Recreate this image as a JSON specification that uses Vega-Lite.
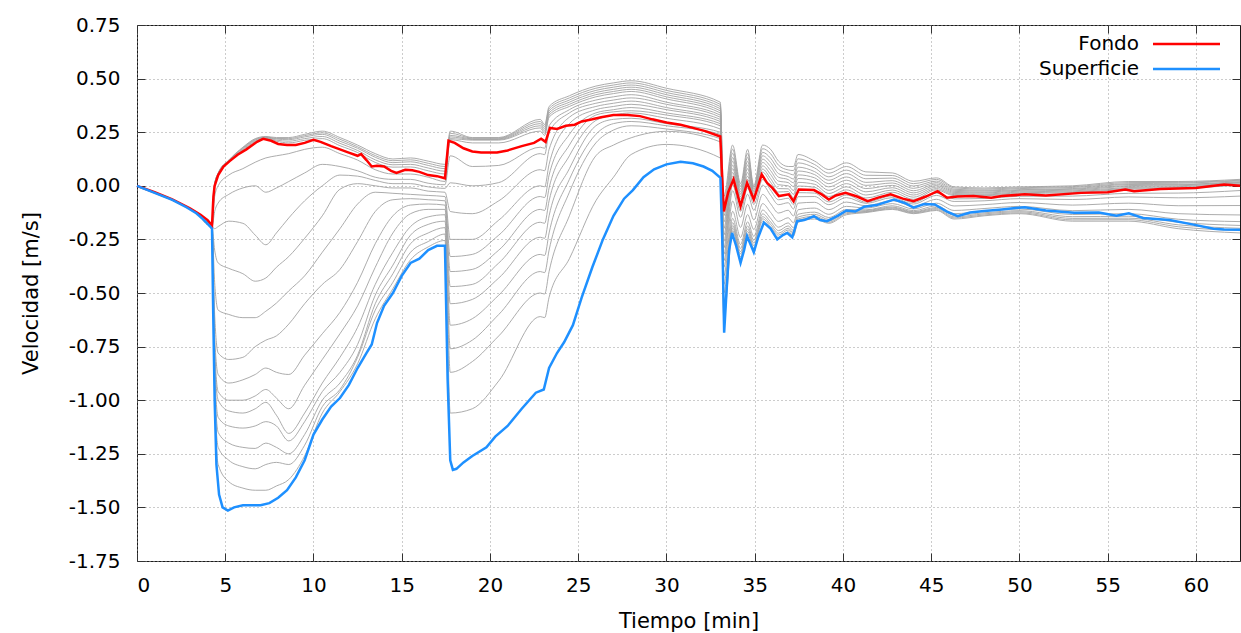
{
"$schema":"https://vega.github.io/schema/vega-lite/v6.json",
"width":1103,"height":536,
"autosize":{"type":"none"},
"padding":{"left":137,"top":25,"right":1,"bottom":72},
"background":"white",
"config":{"font":"DejaVu Sans","view":{"stroke":"#1a1a1a","strokeWidth":1},
"axis":{"labelFont":"DejaVu Sans","titleFont":"DejaVu Sans","labelFontSize":20,"titleFontSize":21,"titleFontWeight":"normal","labelColor":"#000","titleColor":"#000","tickColor":"#333","domain":false,"gridColor":"#999999","gridDash":[1,3],"gridWidth":1,"tickSize":-8}},
"data":{"values":[
{"t":0,"s":"Fondo","v":0},{"t":1,"s":"Fondo","v":-0.03},{"t":2,"s":"Fondo","v":-0.063},{"t":3,"s":"Fondo","v":-0.105},{"t":3.6,"s":"Fondo","v":-0.135},{"t":4.0,"s":"Fondo","v":-0.16},{"t":4.25,"s":"Fondo","v":-0.185},{"t":4.33,"s":"Fondo","v":-0.05},{"t":4.4,"s":"Fondo","v":0.0},{"t":4.6,"s":"Fondo","v":0.05},{"t":4.9,"s":"Fondo","v":0.09},{"t":5.25,"s":"Fondo","v":0.115},{"t":5.7,"s":"Fondo","v":0.145},{"t":6.2,"s":"Fondo","v":0.17},{"t":6.8,"s":"Fondo","v":0.205},{"t":7.15,"s":"Fondo","v":0.219},{"t":7.6,"s":"Fondo","v":0.21},{"t":8.0,"s":"Fondo","v":0.195},{"t":8.5,"s":"Fondo","v":0.19},{"t":9.0,"s":"Fondo","v":0.19},{"t":9.5,"s":"Fondo","v":0.2},{"t":10.0,"s":"Fondo","v":0.215},{"t":10.4,"s":"Fondo","v":0.205},{"t":11.0,"s":"Fondo","v":0.185},{"t":11.5,"s":"Fondo","v":0.17},{"t":12.0,"s":"Fondo","v":0.155},{"t":12.5,"s":"Fondo","v":0.14},{"t":12.7,"s":"Fondo","v":0.148},{"t":13.0,"s":"Fondo","v":0.12},{"t":13.3,"s":"Fondo","v":0.09},{"t":13.6,"s":"Fondo","v":0.093},{"t":14.0,"s":"Fondo","v":0.09},{"t":14.4,"s":"Fondo","v":0.07},{"t":14.7,"s":"Fondo","v":0.06},{"t":15.2,"s":"Fondo","v":0.075},{"t":15.6,"s":"Fondo","v":0.072},{"t":16.0,"s":"Fondo","v":0.065},{"t":16.5,"s":"Fondo","v":0.05},{"t":17.0,"s":"Fondo","v":0.045},{"t":17.45,"s":"Fondo","v":0.035},{"t":17.65,"s":"Fondo","v":0.21},{"t":18.0,"s":"Fondo","v":0.2},{"t":18.5,"s":"Fondo","v":0.175},{"t":19.0,"s":"Fondo","v":0.16},{"t":19.5,"s":"Fondo","v":0.155},{"t":20.4,"s":"Fondo","v":0.155},{"t":21.0,"s":"Fondo","v":0.165},{"t":21.8,"s":"Fondo","v":0.185},{"t":22.5,"s":"Fondo","v":0.2},{"t":22.9,"s":"Fondo","v":0.22},{"t":23.15,"s":"Fondo","v":0.205},{"t":23.4,"s":"Fondo","v":0.27},{"t":23.8,"s":"Fondo","v":0.265},{"t":24.3,"s":"Fondo","v":0.28},{"t":24.8,"s":"Fondo","v":0.285},{"t":25.2,"s":"Fondo","v":0.3},{"t":25.8,"s":"Fondo","v":0.31},{"t":26.3,"s":"Fondo","v":0.32},{"t":27.0,"s":"Fondo","v":0.33},{"t":27.8,"s":"Fondo","v":0.33},{"t":28.5,"s":"Fondo","v":0.325},{"t":29.2,"s":"Fondo","v":0.31},{"t":30.0,"s":"Fondo","v":0.295},{"t":30.8,"s":"Fondo","v":0.285},{"t":31.5,"s":"Fondo","v":0.27},{"t":32.2,"s":"Fondo","v":0.255},{"t":33.05,"s":"Fondo","v":0.23},{"t":33.25,"s":"Fondo","v":-0.12},{"t":33.5,"s":"Fondo","v":-0.03},{"t":33.8,"s":"Fondo","v":0.03},{"t":34.2,"s":"Fondo","v":-0.095},{"t":34.57,"s":"Fondo","v":0.014},{"t":34.95,"s":"Fondo","v":-0.064},{"t":35.4,"s":"Fondo","v":0.053},{"t":35.7,"s":"Fondo","v":0.014},{"t":36.0,"s":"Fondo","v":-0.01},{"t":36.37,"s":"Fondo","v":-0.048},{"t":36.93,"s":"Fondo","v":-0.04},{"t":37.2,"s":"Fondo","v":-0.072},{"t":37.5,"s":"Fondo","v":-0.017},{"t":38.36,"s":"Fondo","v":-0.02},{"t":38.8,"s":"Fondo","v":-0.04},{"t":39.2,"s":"Fondo","v":-0.064},{"t":39.6,"s":"Fondo","v":-0.045},{"t":40.15,"s":"Fondo","v":-0.033},{"t":40.8,"s":"Fondo","v":-0.05},{"t":41.4,"s":"Fondo","v":-0.072},{"t":42.0,"s":"Fondo","v":-0.055},{"t":42.7,"s":"Fondo","v":-0.04},{"t":43.4,"s":"Fondo","v":-0.06},{"t":44.0,"s":"Fondo","v":-0.072},{"t":44.7,"s":"Fondo","v":-0.05},{"t":45.36,"s":"Fondo","v":-0.025},{"t":45.9,"s":"Fondo","v":-0.056},{"t":46.5,"s":"Fondo","v":-0.05},{"t":47.4,"s":"Fondo","v":-0.048},{"t":48.4,"s":"Fondo","v":-0.056},{"t":49.0,"s":"Fondo","v":-0.048},{"t":50.3,"s":"Fondo","v":-0.04},{"t":51.5,"s":"Fondo","v":-0.045},{"t":53.5,"s":"Fondo","v":-0.033},{"t":55.0,"s":"Fondo","v":-0.03},{"t":56.0,"s":"Fondo","v":-0.017},{"t":56.5,"s":"Fondo","v":-0.025},{"t":58.0,"s":"Fondo","v":-0.015},{"t":60.0,"s":"Fondo","v":-0.01},{"t":61.6,"s":"Fondo","v":0.006},{"t":62.5,"s":"Fondo","v":0.0},
{"t":0,"s":"Superficie","v":0},{"t":1,"s":"Superficie","v":-0.033},{"t":2,"s":"Superficie","v":-0.066},{"t":2.8,"s":"Superficie","v":-0.1},{"t":3.36,"s":"Superficie","v":-0.128},{"t":3.8,"s":"Superficie","v":-0.16},{"t":4.15,"s":"Superficie","v":-0.19},{"t":4.25,"s":"Superficie","v":-0.2},{"t":4.32,"s":"Superficie","v":-0.6},{"t":4.4,"s":"Superficie","v":-1.0},{"t":4.5,"s":"Superficie","v":-1.3},{"t":4.65,"s":"Superficie","v":-1.44},{"t":4.85,"s":"Superficie","v":-1.5},{"t":5.15,"s":"Superficie","v":-1.515},{"t":5.5,"s":"Superficie","v":-1.5},{"t":6.0,"s":"Superficie","v":-1.49},{"t":7.0,"s":"Superficie","v":-1.49},{"t":7.5,"s":"Superficie","v":-1.48},{"t":8.0,"s":"Superficie","v":-1.455},{"t":8.5,"s":"Superficie","v":-1.42},{"t":9.0,"s":"Superficie","v":-1.36},{"t":9.5,"s":"Superficie","v":-1.28},{"t":10.0,"s":"Superficie","v":-1.16},{"t":10.5,"s":"Superficie","v":-1.09},{"t":11.0,"s":"Superficie","v":-1.03},{"t":11.5,"s":"Superficie","v":-0.99},{"t":12.0,"s":"Superficie","v":-0.93},{"t":12.5,"s":"Superficie","v":-0.85},{"t":13.0,"s":"Superficie","v":-0.78},{"t":13.3,"s":"Superficie","v":-0.74},{"t":13.6,"s":"Superficie","v":-0.64},{"t":14.0,"s":"Superficie","v":-0.56},{"t":14.5,"s":"Superficie","v":-0.5},{"t":15.0,"s":"Superficie","v":-0.42},{"t":15.5,"s":"Superficie","v":-0.36},{"t":16.0,"s":"Superficie","v":-0.34},{"t":16.5,"s":"Superficie","v":-0.3},{"t":17.0,"s":"Superficie","v":-0.28},{"t":17.45,"s":"Superficie","v":-0.28},{"t":17.6,"s":"Superficie","v":-0.9},{"t":17.75,"s":"Superficie","v":-1.28},{"t":17.9,"s":"Superficie","v":-1.325},{"t":18.1,"s":"Superficie","v":-1.32},{"t":18.5,"s":"Superficie","v":-1.29},{"t":19.0,"s":"Superficie","v":-1.26},{"t":19.8,"s":"Superficie","v":-1.22},{"t":20.3,"s":"Superficie","v":-1.17},{"t":21.0,"s":"Superficie","v":-1.12},{"t":21.8,"s":"Superficie","v":-1.04},{"t":22.6,"s":"Superficie","v":-0.965},{"t":23.05,"s":"Superficie","v":-0.95},{"t":23.35,"s":"Superficie","v":-0.85},{"t":23.8,"s":"Superficie","v":-0.78},{"t":24.2,"s":"Superficie","v":-0.73},{"t":24.7,"s":"Superficie","v":-0.65},{"t":25.2,"s":"Superficie","v":-0.52},{"t":25.8,"s":"Superficie","v":-0.38},{"t":26.4,"s":"Superficie","v":-0.25},{"t":27.0,"s":"Superficie","v":-0.14},{"t":27.6,"s":"Superficie","v":-0.06},{"t":28.1,"s":"Superficie","v":-0.02},{"t":28.7,"s":"Superficie","v":0.04},{"t":29.3,"s":"Superficie","v":0.077},{"t":30.0,"s":"Superficie","v":0.1},{"t":30.8,"s":"Superficie","v":0.112},{"t":31.5,"s":"Superficie","v":0.105},{"t":32.1,"s":"Superficie","v":0.09},{"t":32.6,"s":"Superficie","v":0.07},{"t":33.06,"s":"Superficie","v":0.037},{"t":33.18,"s":"Superficie","v":-0.3},{"t":33.27,"s":"Superficie","v":-0.685},{"t":33.4,"s":"Superficie","v":-0.5},{"t":33.55,"s":"Superficie","v":-0.3},{"t":33.72,"s":"Superficie","v":-0.22},{"t":33.95,"s":"Superficie","v":-0.28},{"t":34.2,"s":"Superficie","v":-0.36},{"t":34.4,"s":"Superficie","v":-0.3},{"t":34.57,"s":"Superficie","v":-0.235},{"t":34.75,"s":"Superficie","v":-0.27},{"t":34.95,"s":"Superficie","v":-0.31},{"t":35.2,"s":"Superficie","v":-0.24},{"t":35.52,"s":"Superficie","v":-0.172},{"t":35.9,"s":"Superficie","v":-0.2},{"t":36.28,"s":"Superficie","v":-0.25},{"t":36.6,"s":"Superficie","v":-0.23},{"t":36.85,"s":"Superficie","v":-0.22},{"t":37.13,"s":"Superficie","v":-0.24},{"t":37.41,"s":"Superficie","v":-0.165},{"t":37.8,"s":"Superficie","v":-0.16},{"t":38.36,"s":"Superficie","v":-0.142},{"t":38.7,"s":"Superficie","v":-0.16},{"t":39.1,"s":"Superficie","v":-0.165},{"t":39.7,"s":"Superficie","v":-0.14},{"t":40.2,"s":"Superficie","v":-0.115},{"t":40.7,"s":"Superficie","v":-0.12},{"t":41.2,"s":"Superficie","v":-0.098},{"t":41.9,"s":"Superficie","v":-0.09},{"t":42.9,"s":"Superficie","v":-0.064},{"t":43.5,"s":"Superficie","v":-0.08},{"t":44.0,"s":"Superficie","v":-0.102},{"t":44.6,"s":"Superficie","v":-0.085},{"t":45.2,"s":"Superficie","v":-0.087},{"t":45.9,"s":"Superficie","v":-0.12},{"t":46.5,"s":"Superficie","v":-0.142},{"t":47.2,"s":"Superficie","v":-0.125},{"t":48.0,"s":"Superficie","v":-0.118},{"t":49.0,"s":"Superficie","v":-0.11},{"t":50.3,"s":"Superficie","v":-0.1},{"t":51.5,"s":"Superficie","v":-0.115},{"t":53.1,"s":"Superficie","v":-0.126},{"t":54.5,"s":"Superficie","v":-0.125},{"t":55.5,"s":"Superficie","v":-0.14},{"t":56.2,"s":"Superficie","v":-0.128},{"t":57.0,"s":"Superficie","v":-0.15},{"t":58.5,"s":"Superficie","v":-0.16},{"t":59.8,"s":"Superficie","v":-0.18},{"t":61.0,"s":"Superficie","v":-0.2},{"t":61.6,"s":"Superficie","v":-0.204},{"t":62.5,"s":"Superficie","v":-0.205},
{"t":0,"s":"U5","v":0},{"t":2,"s":"U5","v":-0.066},{"t":3.36,"s":"U5","v":-0.128},{"t":4.25,"s":"U5","v":-0.19},{"t":4.4,"s":"U5","v":0.01},{"t":4.6,"s":"U5","v":0.06},{"t":5.2,"s":"U5","v":0.12},{"t":6,"s":"U5","v":0.18},{"t":6.7,"s":"U5","v":0.22},{"t":7.3,"s":"U5","v":0.23},{"t":7.9,"s":"U5","v":0.225},{"t":8.6,"s":"U5","v":0.225},{"t":9.5,"s":"U5","v":0.24},{"t":10.5,"s":"U5","v":0.255},{"t":11.5,"s":"U5","v":0.225},{"t":12.5,"s":"U5","v":0.19},{"t":13.5,"s":"U5","v":0.15},{"t":14.5,"s":"U5","v":0.125},{"t":15.5,"s":"U5","v":0.13},{"t":16.5,"s":"U5","v":0.115},{"t":17.45,"s":"U5","v":0.1},{"t":17.75,"s":"U5","v":0.255},{"t":19,"s":"U5","v":0.225},{"t":20.5,"s":"U5","v":0.225},{"t":22.85,"s":"U5","v":0.31},{"t":23.1,"s":"U5","v":0.285},{"t":23.35,"s":"U5","v":0.37},{"t":24.5,"s":"U5","v":0.42},{"t":26,"s":"U5","v":0.465},{"t":27,"s":"U5","v":0.48},{"t":28,"s":"U5","v":0.49},{"t":30,"s":"U5","v":0.455},{"t":33.05,"s":"U5","v":0.39},{"t":33.25,"s":"U5","v":-0.05},{"t":33.75,"s":"U5","v":0.19},{"t":34.2,"s":"U5","v":0.01},{"t":34.6,"s":"U5","v":0.17},{"t":34.95,"s":"U5","v":0.0},{"t":35.45,"s":"U5","v":0.19},{"t":35.9,"s":"U5","v":0.17},{"t":36.35,"s":"U5","v":0.115},{"t":36.9,"s":"U5","v":0.09},{"t":37.2,"s":"U5","v":0.09},{"t":37.45,"s":"U5","v":0.146},{"t":38.4,"s":"U5","v":0.115},{"t":39.2,"s":"U5","v":0.076},{"t":40.2,"s":"U5","v":0.107},{"t":41.3,"s":"U5","v":0.065},{"t":42.8,"s":"U5","v":0.06},{"t":44,"s":"U5","v":0.021},{"t":45.3,"s":"U5","v":0.037},{"t":46.3,"s":"U5","v":-0.005},{"t":48,"s":"U5","v":-0.01},{"t":50,"s":"U5","v":-0.005},{"t":53,"s":"U5","v":0.0},{"t":56.2,"s":"U5","v":0.02},{"t":59,"s":"U5","v":0.02},{"t":62.5,"s":"U5","v":0.03},
{"t":0,"s":"U4","v":0},{"t":2,"s":"U4","v":-0.066},{"t":3.36,"s":"U4","v":-0.128},{"t":4.25,"s":"U4","v":-0.19},{"t":4.4,"s":"U4","v":0.008},{"t":4.6,"s":"U4","v":0.058},{"t":5.2,"s":"U4","v":0.118},{"t":6,"s":"U4","v":0.177},{"t":6.7,"s":"U4","v":0.217},{"t":7.3,"s":"U4","v":0.228},{"t":7.9,"s":"U4","v":0.221},{"t":8.6,"s":"U4","v":0.22},{"t":9.5,"s":"U4","v":0.234},{"t":10.5,"s":"U4","v":0.247},{"t":11.5,"s":"U4","v":0.217},{"t":12.5,"s":"U4","v":0.182},{"t":13.5,"s":"U4","v":0.141},{"t":14.5,"s":"U4","v":0.117},{"t":15.5,"s":"U4","v":0.121},{"t":16.5,"s":"U4","v":0.105},{"t":17.45,"s":"U4","v":0.09},{"t":17.75,"s":"U4","v":0.245},{"t":19,"s":"U4","v":0.222},{"t":20.5,"s":"U4","v":0.222},{"t":22.85,"s":"U4","v":0.3},{"t":23.1,"s":"U4","v":0.275},{"t":23.35,"s":"U4","v":0.36},{"t":24.5,"s":"U4","v":0.41},{"t":26,"s":"U4","v":0.455},{"t":27,"s":"U4","v":0.47},{"t":28,"s":"U4","v":0.48},{"t":30,"s":"U4","v":0.445},{"t":33.05,"s":"U4","v":0.38},{"t":33.25,"s":"U4","v":-0.08},{"t":33.75,"s":"U4","v":0.171},{"t":34.2,"s":"U4","v":-0.003},{"t":34.6,"s":"U4","v":0.151},{"t":34.95,"s":"U4","v":-0.008},{"t":35.45,"s":"U4","v":0.173},{"t":35.9,"s":"U4","v":0.15},{"t":36.35,"s":"U4","v":0.096},{"t":36.9,"s":"U4","v":0.074},{"t":37.2,"s":"U4","v":0.071},{"t":37.45,"s":"U4","v":0.126},{"t":38.4,"s":"U4","v":0.099},{"t":39.2,"s":"U4","v":0.059},{"t":40.2,"s":"U4","v":0.09},{"t":41.3,"s":"U4","v":0.049},{"t":42.8,"s":"U4","v":0.048},{"t":44,"s":"U4","v":0.01},{"t":45.3,"s":"U4","v":0.03},{"t":46.3,"s":"U4","v":-0.01},{"t":48,"s":"U4","v":-0.015},{"t":50,"s":"U4","v":-0.009},{"t":53,"s":"U4","v":-0.004},{"t":56.2,"s":"U4","v":0.015},{"t":59,"s":"U4","v":0.016},{"t":62.5,"s":"U4","v":0.026},
{"t":0,"s":"U3","v":0},{"t":2,"s":"U3","v":-0.066},{"t":3.36,"s":"U3","v":-0.128},{"t":4.25,"s":"U3","v":-0.19},{"t":4.4,"s":"U3","v":0.007},{"t":4.6,"s":"U3","v":0.057},{"t":5.2,"s":"U3","v":0.117},{"t":6,"s":"U3","v":0.174},{"t":6.7,"s":"U3","v":0.214},{"t":7.3,"s":"U3","v":0.226},{"t":7.9,"s":"U3","v":0.218},{"t":8.6,"s":"U3","v":0.215},{"t":9.5,"s":"U3","v":0.228},{"t":10.5,"s":"U3","v":0.24},{"t":11.5,"s":"U3","v":0.208},{"t":12.5,"s":"U3","v":0.175},{"t":13.5,"s":"U3","v":0.133},{"t":14.5,"s":"U3","v":0.108},{"t":15.5,"s":"U3","v":0.112},{"t":16.5,"s":"U3","v":0.095},{"t":17.45,"s":"U3","v":0.08},{"t":17.75,"s":"U3","v":0.235},{"t":19,"s":"U3","v":0.219},{"t":20.5,"s":"U3","v":0.219},{"t":22.85,"s":"U3","v":0.29},{"t":23.1,"s":"U3","v":0.265},{"t":23.35,"s":"U3","v":0.35},{"t":24.5,"s":"U3","v":0.4},{"t":26,"s":"U3","v":0.445},{"t":27,"s":"U3","v":0.46},{"t":28,"s":"U3","v":0.47},{"t":30,"s":"U3","v":0.435},{"t":33.05,"s":"U3","v":0.37},{"t":33.25,"s":"U3","v":-0.11},{"t":33.75,"s":"U3","v":0.152},{"t":34.2,"s":"U3","v":-0.015},{"t":34.6,"s":"U3","v":0.133},{"t":34.95,"s":"U3","v":-0.015},{"t":35.45,"s":"U3","v":0.156},{"t":35.9,"s":"U3","v":0.129},{"t":36.35,"s":"U3","v":0.077},{"t":36.9,"s":"U3","v":0.059},{"t":37.2,"s":"U3","v":0.051},{"t":37.45,"s":"U3","v":0.107},{"t":38.4,"s":"U3","v":0.083},{"t":39.2,"s":"U3","v":0.042},{"t":40.2,"s":"U3","v":0.073},{"t":41.3,"s":"U3","v":0.033},{"t":42.8,"s":"U3","v":0.036},{"t":44,"s":"U3","v":-0.001},{"t":45.3,"s":"U3","v":0.022},{"t":46.3,"s":"U3","v":-0.016},{"t":48,"s":"U3","v":-0.02},{"t":50,"s":"U3","v":-0.013},{"t":53,"s":"U3","v":-0.008},{"t":56.2,"s":"U3","v":0.01},{"t":59,"s":"U3","v":0.012},{"t":62.5,"s":"U3","v":0.023},
{"t":0,"s":"U2","v":0},{"t":2,"s":"U2","v":-0.066},{"t":3.36,"s":"U2","v":-0.128},{"t":4.25,"s":"U2","v":-0.19},{"t":4.4,"s":"U2","v":0.005},{"t":4.6,"s":"U2","v":0.055},{"t":5.2,"s":"U2","v":0.115},{"t":6,"s":"U2","v":0.17},{"t":6.7,"s":"U2","v":0.21},{"t":7.3,"s":"U2","v":0.224},{"t":7.9,"s":"U2","v":0.213},{"t":8.6,"s":"U2","v":0.208},{"t":9.5,"s":"U2","v":0.22},{"t":10.5,"s":"U2","v":0.23},{"t":11.5,"s":"U2","v":0.198},{"t":12.5,"s":"U2","v":0.165},{"t":13.5,"s":"U2","v":0.121},{"t":14.5,"s":"U2","v":0.098},{"t":15.5,"s":"U2","v":0.1},{"t":16.5,"s":"U2","v":0.083},{"t":17.45,"s":"U2","v":0.068},{"t":17.75,"s":"U2","v":0.228},{"t":19,"s":"U2","v":0.216},{"t":20.5,"s":"U2","v":0.216},{"t":22.85,"s":"U2","v":0.28},{"t":23.1,"s":"U2","v":0.255},{"t":23.35,"s":"U2","v":0.34},{"t":24.5,"s":"U2","v":0.39},{"t":26,"s":"U2","v":0.435},{"t":27,"s":"U2","v":0.45},{"t":28,"s":"U2","v":0.46},{"t":30,"s":"U2","v":0.425},{"t":33.05,"s":"U2","v":0.36},{"t":33.25,"s":"U2","v":-0.14},{"t":33.75,"s":"U2","v":0.132},{"t":34.2,"s":"U2","v":-0.028},{"t":34.6,"s":"U2","v":0.114},{"t":34.95,"s":"U2","v":-0.023},{"t":35.45,"s":"U2","v":0.14},{"t":35.9,"s":"U2","v":0.109},{"t":36.35,"s":"U2","v":0.057},{"t":36.9,"s":"U2","v":0.043},{"t":37.2,"s":"U2","v":0.032},{"t":37.45,"s":"U2","v":0.087},{"t":38.4,"s":"U2","v":0.066},{"t":39.2,"s":"U2","v":0.026},{"t":40.2,"s":"U2","v":0.057},{"t":41.3,"s":"U2","v":0.016},{"t":42.8,"s":"U2","v":0.024},{"t":44,"s":"U2","v":-0.012},{"t":45.3,"s":"U2","v":0.015},{"t":46.3,"s":"U2","v":-0.021},{"t":48,"s":"U2","v":-0.024},{"t":50,"s":"U2","v":-0.018},{"t":53,"s":"U2","v":-0.013},{"t":56.2,"s":"U2","v":0.006},{"t":59,"s":"U2","v":0.007},{"t":62.5,"s":"U2","v":0.019},
{"t":0,"s":"U1","v":0},{"t":2,"s":"U1","v":-0.066},{"t":3.36,"s":"U1","v":-0.128},{"t":4.25,"s":"U1","v":-0.19},{"t":4.4,"s":"U1","v":0.003},{"t":4.6,"s":"U1","v":0.053},{"t":5.2,"s":"U1","v":0.113},{"t":6,"s":"U1","v":0.166},{"t":6.7,"s":"U1","v":0.206},{"t":7.3,"s":"U1","v":0.222},{"t":7.9,"s":"U1","v":0.208},{"t":8.6,"s":"U1","v":0.2},{"t":9.5,"s":"U1","v":0.212},{"t":10.5,"s":"U1","v":0.22},{"t":11.5,"s":"U1","v":0.187},{"t":12.5,"s":"U1","v":0.155},{"t":13.5,"s":"U1","v":0.109},{"t":14.5,"s":"U1","v":0.087},{"t":15.5,"s":"U1","v":0.088},{"t":16.5,"s":"U1","v":0.07},{"t":17.45,"s":"U1","v":0.055},{"t":17.75,"s":"U1","v":0.22},{"t":19,"s":"U1","v":0.213},{"t":20.5,"s":"U1","v":0.213},{"t":22.85,"s":"U1","v":0.27},{"t":23.1,"s":"U1","v":0.245},{"t":23.35,"s":"U1","v":0.33},{"t":24.5,"s":"U1","v":0.38},{"t":26,"s":"U1","v":0.425},{"t":27,"s":"U1","v":0.44},{"t":28,"s":"U1","v":0.45},{"t":30,"s":"U1","v":0.415},{"t":33.05,"s":"U1","v":0.35},{"t":33.25,"s":"U1","v":-0.17},{"t":33.75,"s":"U1","v":0.115},{"t":34.2,"s":"U1","v":-0.039},{"t":34.6,"s":"U1","v":0.097},{"t":34.95,"s":"U1","v":-0.03},{"t":35.45,"s":"U1","v":0.124},{"t":35.9,"s":"U1","v":0.09},{"t":36.35,"s":"U1","v":0.04},{"t":36.9,"s":"U1","v":0.029},{"t":37.2,"s":"U1","v":0.014},{"t":37.45,"s":"U1","v":0.069},{"t":38.4,"s":"U1","v":0.052},{"t":39.2,"s":"U1","v":0.01},{"t":40.2,"s":"U1","v":0.041},{"t":41.3,"s":"U1","v":0.002},{"t":42.8,"s":"U1","v":0.013},{"t":44,"s":"U1","v":-0.023},{"t":45.3,"s":"U1","v":0.008},{"t":46.3,"s":"U1","v":-0.026},{"t":48,"s":"U1","v":-0.029},{"t":50,"s":"U1","v":-0.021},{"t":53,"s":"U1","v":-0.016},{"t":56.2,"s":"U1","v":0.001},{"t":59,"s":"U1","v":0.004},{"t":62.5,"s":"U1","v":0.016},
{"t":0,"s":"L1","v":0},{"t":2,"s":"L1","v":-0.066},{"t":3.36,"s":"L1","v":-0.128},{"t":4.25,"s":"L1","v":-0.19},{"t":4.4,"s":"L1","v":-0.05},{"t":4.6,"s":"L1","v":0.0},{"t":5.2,"s":"L1","v":0.05},{"t":6,"s":"L1","v":0.08},{"t":6.7,"s":"L1","v":0.11},{"t":7.3,"s":"L1","v":0.13},{"t":7.9,"s":"L1","v":0.14},{"t":8.6,"s":"L1","v":0.15},{"t":9.5,"s":"L1","v":0.17},{"t":10.5,"s":"L1","v":0.18},{"t":11.5,"s":"L1","v":0.15},{"t":12.5,"s":"L1","v":0.12},{"t":13.5,"s":"L1","v":0.075},{"t":14.5,"s":"L1","v":0.055},{"t":15.5,"s":"L1","v":0.055},{"t":16.5,"s":"L1","v":0.04},{"t":17.45,"s":"L1","v":0.02},{"t":17.75,"s":"L1","v":0.215},{"t":19,"s":"L1","v":0.2},{"t":20.5,"s":"L1","v":0.2},{"t":22.85,"s":"L1","v":0.255},{"t":23.1,"s":"L1","v":0.235},{"t":23.35,"s":"L1","v":0.32},{"t":24.5,"s":"L1","v":0.37},{"t":26,"s":"L1","v":0.415},{"t":27,"s":"L1","v":0.43},{"t":28,"s":"L1","v":0.44},{"t":30,"s":"L1","v":0.405},{"t":33.05,"s":"L1","v":0.34},{"t":33.25,"s":"L1","v":-0.2},{"t":33.75,"s":"L1","v":0.097},{"t":34.2,"s":"L1","v":-0.051},{"t":34.6,"s":"L1","v":0.08},{"t":34.95,"s":"L1","v":-0.037},{"t":35.45,"s":"L1","v":0.109},{"t":35.9,"s":"L1","v":0.071},{"t":36.35,"s":"L1","v":0.022},{"t":36.9,"s":"L1","v":0.015},{"t":37.2,"s":"L1","v":-0.004},{"t":37.45,"s":"L1","v":0.051},{"t":38.4,"s":"L1","v":0.037},{"t":39.2,"s":"L1","v":-0.005},{"t":40.2,"s":"L1","v":0.026},{"t":41.3,"s":"L1","v":-0.013},{"t":42.8,"s":"L1","v":0.002},{"t":44,"s":"L1","v":-0.033},{"t":45.3,"s":"L1","v":0.001},{"t":46.3,"s":"L1","v":-0.031},{"t":48,"s":"L1","v":-0.033},{"t":50,"s":"L1","v":-0.025},{"t":53,"s":"L1","v":-0.02},{"t":56.2,"s":"L1","v":-0.003},{"t":59,"s":"L1","v":0.0},{"t":62.5,"s":"L1","v":0.013},
{"t":0,"s":"L2","v":0},{"t":2,"s":"L2","v":-0.066},{"t":3.36,"s":"L2","v":-0.128},{"t":4.25,"s":"L2","v":-0.19},{"t":4.4,"s":"L2","v":-0.12},{"t":4.6,"s":"L2","v":-0.08},{"t":5.2,"s":"L2","v":-0.04},{"t":6,"s":"L2","v":-0.01},{"t":6.7,"s":"L2","v":0.0},{"t":7.3,"s":"L2","v":-0.03},{"t":7.9,"s":"L2","v":-0.01},{"t":8.6,"s":"L2","v":0.02},{"t":9.5,"s":"L2","v":0.06},{"t":10.5,"s":"L2","v":0.1},{"t":11.5,"s":"L2","v":0.09},{"t":12.5,"s":"L2","v":0.07},{"t":13.5,"s":"L2","v":0.04},{"t":14.5,"s":"L2","v":0.03},{"t":15.5,"s":"L2","v":0.03},{"t":16.5,"s":"L2","v":0.012},{"t":17.45,"s":"L2","v":0.005},{"t":17.75,"s":"L2","v":0.14},{"t":19,"s":"L2","v":0.09},{"t":20.5,"s":"L2","v":0.095},{"t":22.85,"s":"L2","v":0.18},{"t":23.1,"s":"L2","v":0.175},{"t":23.35,"s":"L2","v":0.28},{"t":24.5,"s":"L2","v":0.355},{"t":26,"s":"L2","v":0.4},{"t":27,"s":"L2","v":0.415},{"t":28,"s":"L2","v":0.425},{"t":30,"s":"L2","v":0.39},{"t":33.05,"s":"L2","v":0.33},{"t":33.25,"s":"L2","v":-0.23},{"t":33.75,"s":"L2","v":0.08},{"t":34.2,"s":"L2","v":-0.062},{"t":34.6,"s":"L2","v":0.062},{"t":34.95,"s":"L2","v":-0.044},{"t":35.45,"s":"L2","v":0.093},{"t":35.9,"s":"L2","v":0.053},{"t":36.35,"s":"L2","v":0.005},{"t":36.9,"s":"L2","v":0.0},{"t":37.2,"s":"L2","v":-0.022},{"t":37.45,"s":"L2","v":0.034},{"t":38.4,"s":"L2","v":0.022},{"t":39.2,"s":"L2","v":-0.021},{"t":40.2,"s":"L2","v":0.01},{"t":41.3,"s":"L2","v":-0.028},{"t":42.8,"s":"L2","v":-0.009},{"t":44,"s":"L2","v":-0.043},{"t":45.3,"s":"L2","v":-0.006},{"t":46.3,"s":"L2","v":-0.036},{"t":48,"s":"L2","v":-0.038},{"t":50,"s":"L2","v":-0.029},{"t":53,"s":"L2","v":-0.024},{"t":56.2,"s":"L2","v":-0.008},{"t":59,"s":"L2","v":-0.004},{"t":62.5,"s":"L2","v":0.009},
{"t":0,"s":"L3","v":0},{"t":2,"s":"L3","v":-0.066},{"t":3.36,"s":"L3","v":-0.128},{"t":4.25,"s":"L3","v":-0.19},{"t":4.4,"s":"L3","v":-0.2},{"t":4.6,"s":"L3","v":-0.19},{"t":5.2,"s":"L3","v":-0.165},{"t":6,"s":"L3","v":-0.175},{"t":6.7,"s":"L3","v":-0.23},{"t":7.3,"s":"L3","v":-0.275},{"t":7.9,"s":"L3","v":-0.22},{"t":8.6,"s":"L3","v":-0.15},{"t":9.5,"s":"L3","v":-0.07},{"t":10.5,"s":"L3","v":0.0},{"t":11.5,"s":"L3","v":0.05},{"t":12.5,"s":"L3","v":0.045},{"t":13.5,"s":"L3","v":0.025},{"t":14.5,"s":"L3","v":0.01},{"t":15.5,"s":"L3","v":0.01},{"t":16.5,"s":"L3","v":-0.005},{"t":17.45,"s":"L3","v":-0.012},{"t":17.75,"s":"L3","v":0.014},{"t":19,"s":"L3","v":0.0},{"t":20.5,"s":"L3","v":0.015},{"t":22.85,"s":"L3","v":0.15},{"t":23.1,"s":"L3","v":0.145},{"t":23.35,"s":"L3","v":0.25},{"t":24.5,"s":"L3","v":0.34},{"t":26,"s":"L3","v":0.385},{"t":27,"s":"L3","v":0.4},{"t":28,"s":"L3","v":0.41},{"t":30,"s":"L3","v":0.38},{"t":33.05,"s":"L3","v":0.32},{"t":33.25,"s":"L3","v":-0.26},{"t":33.75,"s":"L3","v":0.062},{"t":34.2,"s":"L3","v":-0.074},{"t":34.6,"s":"L3","v":0.045},{"t":34.95,"s":"L3","v":-0.051},{"t":35.45,"s":"L3","v":0.078},{"t":35.9,"s":"L3","v":0.034},{"t":36.35,"s":"L3","v":-0.013},{"t":36.9,"s":"L3","v":-0.014},{"t":37.2,"s":"L3","v":-0.04},{"t":37.45,"s":"L3","v":0.016},{"t":38.4,"s":"L3","v":0.007},{"t":39.2,"s":"L3","v":-0.036},{"t":40.2,"s":"L3","v":-0.005},{"t":41.3,"s":"L3","v":-0.043},{"t":42.8,"s":"L3","v":-0.02},{"t":44,"s":"L3","v":-0.053},{"t":45.3,"s":"L3","v":-0.013},{"t":46.3,"s":"L3","v":-0.041},{"t":48,"s":"L3","v":-0.042},{"t":50,"s":"L3","v":-0.033},{"t":53,"s":"L3","v":-0.028},{"t":56.2,"s":"L3","v":-0.012},{"t":59,"s":"L3","v":-0.008},{"t":62.5,"s":"L3","v":0.006},
{"t":0,"s":"L4","v":0},{"t":2,"s":"L4","v":-0.066},{"t":3.36,"s":"L4","v":-0.128},{"t":4.25,"s":"L4","v":-0.19},{"t":4.4,"s":"L4","v":-0.3},{"t":4.6,"s":"L4","v":-0.36},{"t":5.2,"s":"L4","v":-0.385},{"t":6,"s":"L4","v":-0.41},{"t":6.7,"s":"L4","v":-0.445},{"t":7.3,"s":"L4","v":-0.43},{"t":7.9,"s":"L4","v":-0.38},{"t":8.6,"s":"L4","v":-0.33},{"t":9.5,"s":"L4","v":-0.245},{"t":10.5,"s":"L4","v":-0.14},{"t":11.5,"s":"L4","v":-0.016},{"t":12.5,"s":"L4","v":0.01},{"t":13.5,"s":"L4","v":0.0},{"t":14.5,"s":"L4","v":-0.01},{"t":15.5,"s":"L4","v":-0.01},{"t":16.5,"s":"L4","v":-0.025},{"t":17.45,"s":"L4","v":-0.03},{"t":17.75,"s":"L4","v":-0.12},{"t":19,"s":"L4","v":-0.13},{"t":20.5,"s":"L4","v":-0.07},{"t":22.85,"s":"L4","v":0.075},{"t":23.1,"s":"L4","v":0.07},{"t":23.35,"s":"L4","v":0.17},{"t":24.5,"s":"L4","v":0.32},{"t":26,"s":"L4","v":0.37},{"t":27,"s":"L4","v":0.385},{"t":28,"s":"L4","v":0.395},{"t":30,"s":"L4","v":0.365},{"t":33.05,"s":"L4","v":0.31},{"t":33.25,"s":"L4","v":-0.29},{"t":33.75,"s":"L4","v":0.046},{"t":34.2,"s":"L4","v":-0.085},{"t":34.6,"s":"L4","v":0.03},{"t":34.95,"s":"L4","v":-0.058},{"t":35.45,"s":"L4","v":0.064},{"t":35.9,"s":"L4","v":0.017},{"t":36.35,"s":"L4","v":-0.029},{"t":36.9,"s":"L4","v":-0.027},{"t":37.2,"s":"L4","v":-0.056},{"t":37.45,"s":"L4","v":-0.001},{"t":38.4,"s":"L4","v":-0.007},{"t":39.2,"s":"L4","v":-0.05},{"t":40.2,"s":"L4","v":-0.019},{"t":41.3,"s":"L4","v":-0.057},{"t":42.8,"s":"L4","v":-0.03},{"t":44,"s":"L4","v":-0.063},{"t":45.3,"s":"L4","v":-0.019},{"t":46.3,"s":"L4","v":-0.046},{"t":48,"s":"L4","v":-0.046},{"t":50,"s":"L4","v":-0.037},{"t":53,"s":"L4","v":-0.032},{"t":56.2,"s":"L4","v":-0.016},{"t":59,"s":"L4","v":-0.012},{"t":62.5,"s":"L4","v":0.003},
{"t":0,"s":"L5","v":0},{"t":2,"s":"L5","v":-0.066},{"t":3.36,"s":"L5","v":-0.128},{"t":4.25,"s":"L5","v":-0.19},{"t":4.4,"s":"L5","v":-0.45},{"t":4.6,"s":"L5","v":-0.58},{"t":5.2,"s":"L5","v":-0.6},{"t":6,"s":"L5","v":-0.615},{"t":6.7,"s":"L5","v":-0.615},{"t":7.3,"s":"L5","v":-0.585},{"t":7.9,"s":"L5","v":-0.547},{"t":8.6,"s":"L5","v":-0.49},{"t":9.5,"s":"L5","v":-0.42},{"t":10.5,"s":"L5","v":-0.31},{"t":11.5,"s":"L5","v":-0.2},{"t":12.5,"s":"L5","v":-0.085},{"t":13.5,"s":"L5","v":-0.03},{"t":14.5,"s":"L5","v":-0.035},{"t":15.5,"s":"L5","v":-0.04},{"t":16.5,"s":"L5","v":-0.045},{"t":17.45,"s":"L5","v":-0.05},{"t":17.75,"s":"L5","v":-0.25},{"t":19,"s":"L5","v":-0.25},{"t":20.5,"s":"L5","v":-0.16},{"t":22.85,"s":"L5","v":0.0},{"t":23.1,"s":"L5","v":-0.005},{"t":23.35,"s":"L5","v":0.1},{"t":24.5,"s":"L5","v":0.29},{"t":26,"s":"L5","v":0.355},{"t":27,"s":"L5","v":0.37},{"t":28,"s":"L5","v":0.38},{"t":30,"s":"L5","v":0.355},{"t":33.05,"s":"L5","v":0.3},{"t":33.25,"s":"L5","v":-0.32},{"t":33.75,"s":"L5","v":0.006},{"t":34.2,"s":"L5","v":-0.119},{"t":34.6,"s":"L5","v":-0.01},{"t":34.95,"s":"L5","v":-0.087},{"t":35.45,"s":"L5","v":0.029},{"t":35.9,"s":"L5","v":-0.02},{"t":36.35,"s":"L5","v":-0.065},{"t":36.9,"s":"L5","v":-0.058},{"t":37.2,"s":"L5","v":-0.088},{"t":37.45,"s":"L5","v":-0.032},{"t":38.4,"s":"L5","v":-0.034},{"t":39.2,"s":"L5","v":-0.075},{"t":40.2,"s":"L5","v":-0.043},{"t":41.3,"s":"L5","v":-0.076},{"t":42.8,"s":"L5","v":-0.047},{"t":44,"s":"L5","v":-0.078},{"t":45.3,"s":"L5","v":-0.034},{"t":46.3,"s":"L5","v":-0.061},{"t":48,"s":"L5","v":-0.059},{"t":50,"s":"L5","v":-0.049},{"t":53,"s":"L5","v":-0.048},{"t":56.2,"s":"L5","v":-0.035},{"t":59,"s":"L5","v":-0.034},{"t":62.5,"s":"L5","v":-0.022},
{"t":0,"s":"L6","v":0},{"t":2,"s":"L6","v":-0.066},{"t":3.36,"s":"L6","v":-0.128},{"t":4.25,"s":"L6","v":-0.19},{"t":4.4,"s":"L6","v":-0.6},{"t":4.6,"s":"L6","v":-0.78},{"t":5.2,"s":"L6","v":-0.81},{"t":6,"s":"L6","v":-0.8},{"t":6.7,"s":"L6","v":-0.75},{"t":7.3,"s":"L6","v":-0.72},{"t":7.9,"s":"L6","v":-0.7},{"t":8.6,"s":"L6","v":-0.645},{"t":9.5,"s":"L6","v":-0.55},{"t":10.5,"s":"L6","v":-0.46},{"t":11.5,"s":"L6","v":-0.39},{"t":12.5,"s":"L6","v":-0.26},{"t":13.5,"s":"L6","v":-0.12},{"t":14.5,"s":"L6","v":-0.065},{"t":15.5,"s":"L6","v":-0.06},{"t":16.5,"s":"L6","v":-0.065},{"t":17.45,"s":"L6","v":-0.07},{"t":17.75,"s":"L6","v":-0.33},{"t":19,"s":"L6","v":-0.32},{"t":20.5,"s":"L6","v":-0.23},{"t":22.85,"s":"L6","v":-0.05},{"t":23.1,"s":"L6","v":-0.055},{"t":23.35,"s":"L6","v":0.05},{"t":24.5,"s":"L6","v":0.24},{"t":26,"s":"L6","v":0.34},{"t":27,"s":"L6","v":0.355},{"t":28,"s":"L6","v":0.365},{"t":30,"s":"L6","v":0.34},{"t":33.05,"s":"L6","v":0.29},{"t":33.25,"s":"L6","v":-0.35},{"t":33.75,"s":"L6","v":-0.023},{"t":34.2,"s":"L6","v":-0.147},{"t":34.6,"s":"L6","v":-0.039},{"t":34.95,"s":"L6","v":-0.114},{"t":35.45,"s":"L6","v":0.003},{"t":35.9,"s":"L6","v":-0.044},{"t":36.35,"s":"L6","v":-0.088},{"t":36.9,"s":"L6","v":-0.079},{"t":37.2,"s":"L6","v":-0.108},{"t":37.45,"s":"L6","v":-0.051},{"t":38.4,"s":"L6","v":-0.05},{"t":39.2,"s":"L6","v":-0.088},{"t":40.2,"s":"L6","v":-0.055},{"t":41.3,"s":"L6","v":-0.082},{"t":42.8,"s":"L6","v":-0.055},{"t":44,"s":"L6","v":-0.085},{"t":45.3,"s":"L6","v":-0.045},{"t":46.3,"s":"L6","v":-0.073},{"t":48,"s":"L6","v":-0.07},{"t":50,"s":"L6","v":-0.06},{"t":53,"s":"L6","v":-0.064},{"t":56.2,"s":"L6","v":-0.052},{"t":59,"s":"L6","v":-0.056},{"t":62.5,"s":"L6","v":-0.048},
{"t":0,"s":"L7","v":0},{"t":2,"s":"L7","v":-0.066},{"t":3.36,"s":"L7","v":-0.128},{"t":4.25,"s":"L7","v":-0.19},{"t":4.4,"s":"L7","v":-0.7},{"t":4.6,"s":"L7","v":-0.88},{"t":5.2,"s":"L7","v":-0.92},{"t":6,"s":"L7","v":-0.905},{"t":6.7,"s":"L7","v":-0.88},{"t":7.3,"s":"L7","v":-0.85},{"t":7.9,"s":"L7","v":-0.87},{"t":8.6,"s":"L7","v":-0.88},{"t":9.5,"s":"L7","v":-0.79},{"t":10.5,"s":"L7","v":-0.69},{"t":11.5,"s":"L7","v":-0.59},{"t":12.5,"s":"L7","v":-0.45},{"t":13.5,"s":"L7","v":-0.27},{"t":14.5,"s":"L7","v":-0.14},{"t":15.5,"s":"L7","v":-0.09},{"t":16.5,"s":"L7","v":-0.085},{"t":17.45,"s":"L7","v":-0.09},{"t":17.75,"s":"L7","v":-0.4},{"t":19,"s":"L7","v":-0.39},{"t":20.5,"s":"L7","v":-0.3},{"t":22.85,"s":"L7","v":-0.11},{"t":23.1,"s":"L7","v":-0.115},{"t":23.35,"s":"L7","v":-0.01},{"t":24.5,"s":"L7","v":0.19},{"t":26,"s":"L7","v":0.33},{"t":27,"s":"L7","v":0.345},{"t":28,"s":"L7","v":0.35},{"t":30,"s":"L7","v":0.33},{"t":33.05,"s":"L7","v":0.28},{"t":33.25,"s":"L7","v":-0.38},{"t":33.75,"s":"L7","v":-0.071},{"t":34.2,"s":"L7","v":-0.194},{"t":34.6,"s":"L7","v":-0.086},{"t":34.95,"s":"L7","v":-0.159},{"t":35.45,"s":"L7","v":-0.04},{"t":35.9,"s":"L7","v":-0.084},{"t":36.35,"s":"L7","v":-0.127},{"t":36.9,"s":"L7","v":-0.114},{"t":37.2,"s":"L7","v":-0.141},{"t":37.45,"s":"L7","v":-0.081},{"t":38.4,"s":"L7","v":-0.077},{"t":39.2,"s":"L7","v":-0.111},{"t":40.2,"s":"L7","v":-0.076},{"t":41.3,"s":"L7","v":-0.093},{"t":42.8,"s":"L7","v":-0.069},{"t":44,"s":"L7","v":-0.096},{"t":45.3,"s":"L7","v":-0.063},{"t":46.3,"s":"L7","v":-0.094},{"t":48,"s":"L7","v":-0.088},{"t":50,"s":"L7","v":-0.078},{"t":53,"s":"L7","v":-0.09},{"t":56.2,"s":"L7","v":-0.081},{"t":59,"s":"L7","v":-0.093},{"t":62.5,"s":"L7","v":-0.092},
{"t":0,"s":"L8","v":0},{"t":2,"s":"L8","v":-0.066},{"t":3.36,"s":"L8","v":-0.128},{"t":4.25,"s":"L8","v":-0.19},{"t":4.4,"s":"L8","v":-0.75},{"t":4.6,"s":"L8","v":-0.96},{"t":5.2,"s":"L8","v":-1.0},{"t":6,"s":"L8","v":-1.0},{"t":6.7,"s":"L8","v":-0.98},{"t":7.3,"s":"L8","v":-0.95},{"t":7.9,"s":"L8","v":-0.99},{"t":8.6,"s":"L8","v":-1.04},{"t":9.5,"s":"L8","v":-0.93},{"t":10.5,"s":"L8","v":-0.81},{"t":11.5,"s":"L8","v":-0.69},{"t":12.5,"s":"L8","v":-0.56},{"t":13.5,"s":"L8","v":-0.38},{"t":14.5,"s":"L8","v":-0.22},{"t":15.5,"s":"L8","v":-0.13},{"t":16.5,"s":"L8","v":-0.11},{"t":17.45,"s":"L8","v":-0.11},{"t":17.75,"s":"L8","v":-0.47},{"t":19,"s":"L8","v":-0.46},{"t":20.5,"s":"L8","v":-0.36},{"t":22.85,"s":"L8","v":-0.17},{"t":23.1,"s":"L8","v":-0.175},{"t":23.35,"s":"L8","v":-0.07},{"t":24.5,"s":"L8","v":0.14},{"t":26,"s":"L8","v":0.305},{"t":27,"s":"L8","v":0.33},{"t":28,"s":"L8","v":0.34},{"t":30,"s":"L8","v":0.315},{"t":33.05,"s":"L8","v":0.265},{"t":33.25,"s":"L8","v":-0.42},{"t":33.75,"s":"L8","v":-0.119},{"t":34.2,"s":"L8","v":-0.241},{"t":34.6,"s":"L8","v":-0.134},{"t":34.95,"s":"L8","v":-0.204},{"t":35.45,"s":"L8","v":-0.083},{"t":35.9,"s":"L8","v":-0.124},{"t":36.35,"s":"L8","v":-0.166},{"t":36.9,"s":"L8","v":-0.149},{"t":37.2,"s":"L8","v":-0.173},{"t":37.45,"s":"L8","v":-0.112},{"t":38.4,"s":"L8","v":-0.104},{"t":39.2,"s":"L8","v":-0.133},{"t":40.2,"s":"L8","v":-0.096},{"t":41.3,"s":"L8","v":-0.104},{"t":42.8,"s":"L8","v":-0.083},{"t":44,"s":"L8","v":-0.108},{"t":45.3,"s":"L8","v":-0.081},{"t":46.3,"s":"L8","v":-0.115},{"t":48,"s":"L8","v":-0.106},{"t":50,"s":"L8","v":-0.096},{"t":53,"s":"L8","v":-0.116},{"t":56.2,"s":"L8","v":-0.11},{"t":59,"s":"L8","v":-0.13},{"t":62.5,"s":"L8","v":-0.136},
{"t":0,"s":"L9","v":0},{"t":2,"s":"L9","v":-0.066},{"t":3.36,"s":"L9","v":-0.128},{"t":4.25,"s":"L9","v":-0.19},{"t":4.4,"s":"L9","v":-0.8},{"t":4.6,"s":"L9","v":-1.0},{"t":5.2,"s":"L9","v":-1.05},{"t":6,"s":"L9","v":-1.06},{"t":6.7,"s":"L9","v":-1.04},{"t":7.3,"s":"L9","v":-1.01},{"t":7.9,"s":"L9","v":-1.07},{"t":8.6,"s":"L9","v":-1.155},{"t":9.5,"s":"L9","v":-1.06},{"t":10.5,"s":"L9","v":-0.92},{"t":11.5,"s":"L9","v":-0.8},{"t":12.5,"s":"L9","v":-0.66},{"t":13.5,"s":"L9","v":-0.46},{"t":14.5,"s":"L9","v":-0.31},{"t":15.5,"s":"L9","v":-0.19},{"t":16.5,"s":"L9","v":-0.145},{"t":17.45,"s":"L9","v":-0.135},{"t":17.75,"s":"L9","v":-0.55},{"t":19,"s":"L9","v":-0.53},{"t":20.5,"s":"L9","v":-0.43},{"t":22.85,"s":"L9","v":-0.24},{"t":23.1,"s":"L9","v":-0.245},{"t":23.35,"s":"L9","v":-0.14},{"t":24.5,"s":"L9","v":0.08},{"t":26,"s":"L9","v":0.28},{"t":27,"s":"L9","v":0.31},{"t":28,"s":"L9","v":0.315},{"t":30,"s":"L9","v":0.29},{"t":33.05,"s":"L9","v":0.25},{"t":33.25,"s":"L9","v":-0.46},{"t":33.75,"s":"L9","v":-0.152},{"t":34.2,"s":"L9","v":-0.274},{"t":34.6,"s":"L9","v":-0.168},{"t":34.95,"s":"L9","v":-0.236},{"t":35.45,"s":"L9","v":-0.113},{"t":35.9,"s":"L9","v":-0.152},{"t":36.35,"s":"L9","v":-0.193},{"t":36.9,"s":"L9","v":-0.173},{"t":37.2,"s":"L9","v":-0.196},{"t":37.45,"s":"L9","v":-0.133},{"t":38.4,"s":"L9","v":-0.123},{"t":39.2,"s":"L9","v":-0.148},{"t":40.2,"s":"L9","v":-0.111},{"t":41.3,"s":"L9","v":-0.112},{"t":42.8,"s":"L9","v":-0.093},{"t":44,"s":"L9","v":-0.116},{"t":45.3,"s":"L9","v":-0.093},{"t":46.3,"s":"L9","v":-0.13},{"t":48,"s":"L9","v":-0.118},{"t":50,"s":"L9","v":-0.108},{"t":53,"s":"L9","v":-0.134},{"t":56.2,"s":"L9","v":-0.13},{"t":59,"s":"L9","v":-0.156},{"t":62.5,"s":"L9","v":-0.167},
{"t":0,"s":"L10","v":0},{"t":2,"s":"L10","v":-0.066},{"t":3.36,"s":"L10","v":-0.128},{"t":4.25,"s":"L10","v":-0.19},{"t":4.4,"s":"L10","v":-0.85},{"t":4.6,"s":"L10","v":-1.08},{"t":5.2,"s":"L10","v":-1.12},{"t":6,"s":"L10","v":-1.13},{"t":6.7,"s":"L10","v":-1.12},{"t":7.3,"s":"L10","v":-1.1},{"t":7.9,"s":"L10","v":-1.12},{"t":8.6,"s":"L10","v":-1.19},{"t":9.5,"s":"L10","v":-1.1},{"t":10.5,"s":"L10","v":-0.96},{"t":11.5,"s":"L10","v":-0.87},{"t":12.5,"s":"L10","v":-0.74},{"t":13.5,"s":"L10","v":-0.51},{"t":14.5,"s":"L10","v":-0.37},{"t":15.5,"s":"L10","v":-0.23},{"t":16.5,"s":"L10","v":-0.18},{"t":17.45,"s":"L10","v":-0.165},{"t":17.75,"s":"L10","v":-0.65},{"t":19,"s":"L10","v":-0.62},{"t":20.5,"s":"L10","v":-0.51},{"t":22.85,"s":"L10","v":-0.32},{"t":23.1,"s":"L10","v":-0.325},{"t":23.35,"s":"L10","v":-0.22},{"t":24.5,"s":"L10","v":0.03},{"t":26,"s":"L10","v":0.24},{"t":27,"s":"L10","v":0.29},{"t":28,"s":"L10","v":0.3},{"t":30,"s":"L10","v":0.28},{"t":33.05,"s":"L10","v":0.24},{"t":33.25,"s":"L10","v":-0.5},{"t":33.75,"s":"L10","v":-0.172},{"t":34.2,"s":"L10","v":-0.292},{"t":34.6,"s":"L10","v":-0.187},{"t":34.95,"s":"L10","v":-0.254},{"t":35.45,"s":"L10","v":-0.131},{"t":35.9,"s":"L10","v":-0.168},{"t":36.35,"s":"L10","v":-0.209},{"t":36.9,"s":"L10","v":-0.187},{"t":37.2,"s":"L10","v":-0.209},{"t":37.45,"s":"L10","v":-0.146},{"t":38.4,"s":"L10","v":-0.133},{"t":39.2,"s":"L10","v":-0.157},{"t":40.2,"s":"L10","v":-0.119},{"t":41.3,"s":"L10","v":-0.116},{"t":42.8,"s":"L10","v":-0.099},{"t":44,"s":"L10","v":-0.121},{"t":45.3,"s":"L10","v":-0.101},{"t":46.3,"s":"L10","v":-0.138},{"t":48,"s":"L10","v":-0.126},{"t":50,"s":"L10","v":-0.116},{"t":53,"s":"L10","v":-0.144},{"t":56.2,"s":"L10","v":-0.142},{"t":59,"s":"L10","v":-0.17},{"t":62.5,"s":"L10","v":-0.185},
{"t":0,"s":"L11","v":0},{"t":2,"s":"L11","v":-0.066},{"t":3.36,"s":"L11","v":-0.128},{"t":4.25,"s":"L11","v":-0.19},{"t":4.4,"s":"L11","v":-0.9},{"t":4.6,"s":"L11","v":-1.15},{"t":5.2,"s":"L11","v":-1.2},{"t":6,"s":"L11","v":-1.22},{"t":6.7,"s":"L11","v":-1.225},{"t":7.3,"s":"L11","v":-1.2},{"t":7.9,"s":"L11","v":-1.22},{"t":8.6,"s":"L11","v":-1.25},{"t":9.5,"s":"L11","v":-1.16},{"t":10.5,"s":"L11","v":-1.0},{"t":11.5,"s":"L11","v":-0.92},{"t":12.5,"s":"L11","v":-0.79},{"t":13.5,"s":"L11","v":-0.55},{"t":14.5,"s":"L11","v":-0.41},{"t":15.5,"s":"L11","v":-0.27},{"t":16.5,"s":"L11","v":-0.22},{"t":17.45,"s":"L11","v":-0.195},{"t":17.75,"s":"L11","v":-0.76},{"t":19,"s":"L11","v":-0.72},{"t":20.5,"s":"L11","v":-0.6},{"t":22.85,"s":"L11","v":-0.4},{"t":23.1,"s":"L11","v":-0.405},{"t":23.35,"s":"L11","v":-0.3},{"t":24.5,"s":"L11","v":-0.03},{"t":26,"s":"L11","v":0.2},{"t":27,"s":"L11","v":0.26},{"t":28,"s":"L11","v":0.28},{"t":30,"s":"L11","v":0.265},{"t":33.05,"s":"L11","v":0.22},{"t":33.25,"s":"L11","v":-0.54},{"t":33.75,"s":"L11","v":-0.186},{"t":34.2,"s":"L11","v":-0.307},{"t":34.6,"s":"L11","v":-0.201},{"t":34.95,"s":"L11","v":-0.267},{"t":35.45,"s":"L11","v":-0.144},{"t":35.9,"s":"L11","v":-0.18},{"t":36.35,"s":"L11","v":-0.221},{"t":36.9,"s":"L11","v":-0.198},{"t":37.2,"s":"L11","v":-0.219},{"t":37.45,"s":"L11","v":-0.155},{"t":38.4,"s":"L11","v":-0.142},{"t":39.2,"s":"L11","v":-0.164},{"t":40.2,"s":"L11","v":-0.125},{"t":41.3,"s":"L11","v":-0.12},{"t":42.8,"s":"L11","v":-0.103},{"t":44,"s":"L11","v":-0.124},{"t":45.3,"s":"L11","v":-0.106},{"t":46.3,"s":"L11","v":-0.145},{"t":48,"s":"L11","v":-0.131},{"t":50,"s":"L11","v":-0.121},{"t":53,"s":"L11","v":-0.152},{"t":56.2,"s":"L11","v":-0.151},{"t":59,"s":"L11","v":-0.182},{"t":62.5,"s":"L11","v":-0.198},
{"t":0,"s":"L12","v":0},{"t":2,"s":"L12","v":-0.066},{"t":3.36,"s":"L12","v":-0.128},{"t":4.25,"s":"L12","v":-0.19},{"t":4.4,"s":"L12","v":-0.95},{"t":4.6,"s":"L12","v":-1.22},{"t":5.2,"s":"L12","v":-1.28},{"t":6,"s":"L12","v":-1.31},{"t":6.7,"s":"L12","v":-1.32},{"t":7.3,"s":"L12","v":-1.3},{"t":7.9,"s":"L12","v":-1.29},{"t":8.6,"s":"L12","v":-1.3},{"t":9.5,"s":"L12","v":-1.21},{"t":10.5,"s":"L12","v":-1.03},{"t":11.5,"s":"L12","v":-0.95},{"t":12.5,"s":"L12","v":-0.8},{"t":13.5,"s":"L12","v":-0.58},{"t":14.5,"s":"L12","v":-0.45},{"t":15.5,"s":"L12","v":-0.31},{"t":16.5,"s":"L12","v":-0.26},{"t":17.45,"s":"L12","v":-0.225},{"t":17.75,"s":"L12","v":-0.87},{"t":19,"s":"L12","v":-0.82},{"t":20.5,"s":"L12","v":-0.7},{"t":22.85,"s":"L12","v":-0.5},{"t":23.1,"s":"L12","v":-0.505},{"t":23.35,"s":"L12","v":-0.4},{"t":24.5,"s":"L12","v":-0.14},{"t":26,"s":"L12","v":0.14},{"t":27,"s":"L12","v":0.19},{"t":28,"s":"L12","v":0.224},{"t":30,"s":"L12","v":0.254},{"t":33.05,"s":"L12","v":0.205},{"t":33.25,"s":"L12","v":-0.58},{"t":33.75,"s":"L12","v":-0.198},{"t":34.2,"s":"L12","v":-0.318},{"t":34.6,"s":"L12","v":-0.213},{"t":34.95,"s":"L12","v":-0.279},{"t":35.45,"s":"L12","v":-0.154},{"t":35.9,"s":"L12","v":-0.19},{"t":36.35,"s":"L12","v":-0.23},{"t":36.9,"s":"L12","v":-0.206},{"t":37.2,"s":"L12","v":-0.227},{"t":37.45,"s":"L12","v":-0.162},{"t":38.4,"s":"L12","v":-0.148},{"t":39.2,"s":"L12","v":-0.17},{"t":40.2,"s":"L12","v":-0.13},{"t":41.3,"s":"L12","v":-0.122},{"t":42.8,"s":"L12","v":-0.107},{"t":44,"s":"L12","v":-0.127},{"t":45.3,"s":"L12","v":-0.111},{"t":46.3,"s":"L12","v":-0.15},{"t":48,"s":"L12","v":-0.136},{"t":50,"s":"L12","v":-0.126},{"t":53,"s":"L12","v":-0.159},{"t":56.2,"s":"L12","v":-0.158},{"t":59,"s":"L12","v":-0.191},{"t":62.5,"s":"L12","v":-0.209},
{"t":0,"s":"L13","v":0},{"t":2,"s":"L13","v":-0.066},{"t":3.36,"s":"L13","v":-0.128},{"t":4.25,"s":"L13","v":-0.19},{"t":4.4,"s":"L13","v":-0.98},{"t":4.6,"s":"L13","v":-1.3},{"t":5.2,"s":"L13","v":-1.38},{"t":6,"s":"L13","v":-1.41},{"t":6.7,"s":"L13","v":-1.42},{"t":7.3,"s":"L13","v":-1.42},{"t":7.9,"s":"L13","v":-1.4},{"t":8.6,"s":"L13","v":-1.37},{"t":9.5,"s":"L13","v":-1.26},{"t":10.5,"s":"L13","v":-1.06},{"t":11.5,"s":"L13","v":-0.96},{"t":12.5,"s":"L13","v":-0.83},{"t":13.5,"s":"L13","v":-0.62},{"t":14.5,"s":"L13","v":-0.48},{"t":15.5,"s":"L13","v":-0.345},{"t":16.5,"s":"L13","v":-0.285},{"t":17.45,"s":"L13","v":-0.255},{"t":17.75,"s":"L13","v":-1.06},{"t":19,"s":"L13","v":-1.04},{"t":20.5,"s":"L13","v":-0.91},{"t":22.85,"s":"L13","v":-0.61},{"t":23.1,"s":"L13","v":-0.615},{"t":23.35,"s":"L13","v":-0.52},{"t":24.5,"s":"L13","v":-0.34},{"t":26,"s":"L13","v":-0.07},{"t":27,"s":"L13","v":0.04},{"t":28,"s":"L13","v":0.146},{"t":30,"s":"L13","v":0.193},{"t":33.05,"s":"L13","v":0.13},{"t":33.25,"s":"L13","v":-0.62},{"t":33.75,"s":"L13","v":-0.21},{"t":34.2,"s":"L13","v":-0.33},{"t":34.6,"s":"L13","v":-0.225},{"t":34.95,"s":"L13","v":-0.29},{"t":35.45,"s":"L13","v":-0.165},{"t":35.9,"s":"L13","v":-0.2},{"t":36.35,"s":"L13","v":-0.24},{"t":36.9,"s":"L13","v":-0.215},{"t":37.2,"s":"L13","v":-0.235},{"t":37.45,"s":"L13","v":-0.17},{"t":38.4,"s":"L13","v":-0.155},{"t":39.2,"s":"L13","v":-0.175},{"t":40.2,"s":"L13","v":-0.135},{"t":41.3,"s":"L13","v":-0.125},{"t":42.8,"s":"L13","v":-0.11},{"t":44,"s":"L13","v":-0.13},{"t":45.3,"s":"L13","v":-0.115},{"t":46.3,"s":"L13","v":-0.155},{"t":48,"s":"L13","v":-0.14},{"t":50,"s":"L13","v":-0.13},{"t":53,"s":"L13","v":-0.165},{"t":56.2,"s":"L13","v":-0.165},{"t":59,"s":"L13","v":-0.2},{"t":62.5,"s":"L13","v":-0.22}
]},
"layer":[
{"transform":[{"filter":"datum.s != 'Fondo' && datum.s != 'Superficie'"}],
 "mark":{"type":"line","color":"#a3a3a3","strokeWidth":0.9,"interpolate":"monotone"},
 "encoding":{
  "x":{"field":"t","type":"quantitative","scale":{"domain":[0,62.5],"nice":false,"zero":false},
       "axis":{"orient":"bottom","values":[0,5,10,15,20,25,30,35,40,45,50,55,60],"format":"d","title":"Tiempo [min]","labelPadding":22,"titlePadding":15,"grid":true}},
  "y":{"field":"v","type":"quantitative","scale":{"domain":[-1.75,0.75],"nice":false,"zero":false},
       "axis":{"orient":"left","values":[-1.75,-1.5,-1.25,-1,-0.75,-0.5,-0.25,0,0.25,0.5,0.75],"labelExpr":"replace(format(datum.value,'.2f'),'−','-')","title":"Velocidad [m/s]","labelPadding":25,"titlePadding":27,"grid":true}},
  "detail":{"field":"s"}}},
{"transform":[{"filter":"datum.s == 'Fondo'"}],
 "mark":{"type":"line","strokeWidth":2.5},
 "encoding":{
  "x":{"field":"t","type":"quantitative","axis":{"orient":"top","labels":false,"grid":false,"title":null,"values":[0,5,10,15,20,25,30,35,40,45,50,55,60]}},
  "y":{"field":"v","type":"quantitative","axis":{"orient":"right","labels":false,"grid":false,"title":null,"values":[-1.75,-1.5,-1.25,-1,-0.75,-0.5,-0.25,0,0.25,0.5,0.75]}},
  "color":{"field":"s","type":"nominal","scale":{"domain":["Fondo","Superficie"],"range":["#ff0000","#1e90ff"]},
    "legend":{"orient":"none","legendX":1039.5,"legendY":9,"title":null,"symbolType":"M-4,0H4","symbolSize":280.6,"symbolStrokeWidth":2.5,"labelFontSize":20,"labelFont":"DejaVu Sans","labelColor":"#000","labelAlign":"right","labelOffset":-57.5,"rowPadding":5,"padding":0}}}},
{"transform":[{"filter":"datum.s == 'Superficie'"}],
 "mark":{"type":"line","strokeWidth":2.5},
 "encoding":{
  "x":{"field":"t","type":"quantitative","axis":null},
  "y":{"field":"v","type":"quantitative","axis":null},
  "color":{"field":"s","type":"nominal","scale":{"domain":["Fondo","Superficie"],"range":["#ff0000","#1e90ff"]}}}}
],
"resolve":{"axis":{"x":"independent","y":"independent"}}
}
